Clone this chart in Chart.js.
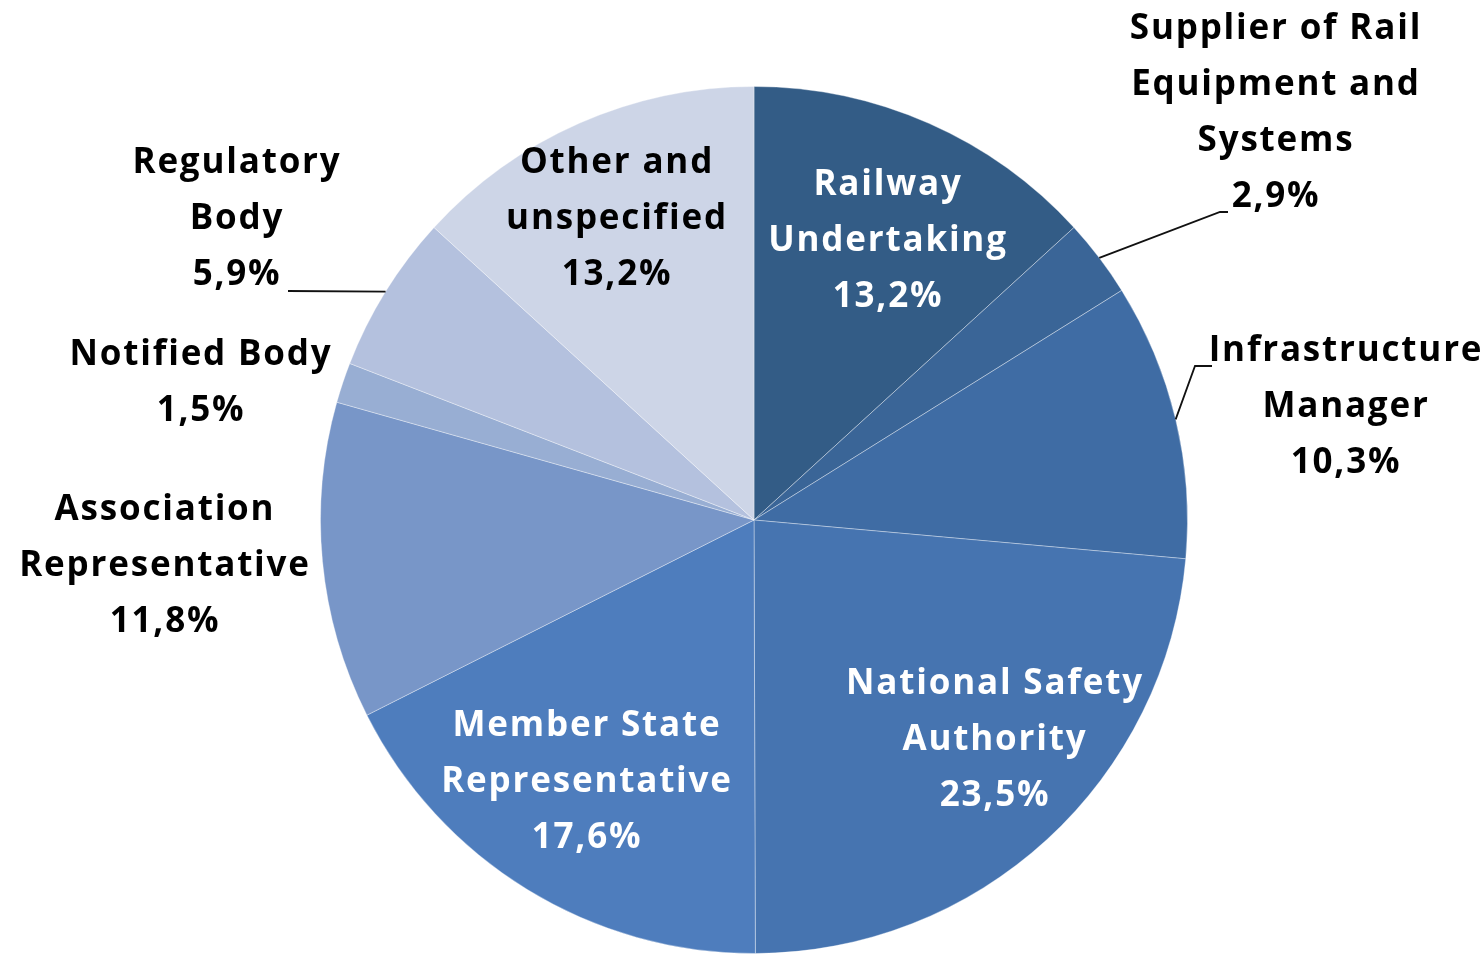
<!DOCTYPE html>
<html>
<head>
<meta charset="utf-8">
<script src="https://cdn.jsdelivr.net/npm/chart.js@4.4.1/dist/chart.umd.min.js"></script>
<style>
  html, body { margin: 0; padding: 0; background: #fff; }
  #wrap { width: 1484px; height: 955px; }
</style>
</head>
<body>
<div id="wrap"><canvas id="pie" width="1484" height="955"></canvas></div>
<script>
// categories, clockwise from 12 o'clock
const categories = [
    ['Railway', 'Undertaking'],
    ['Supplier of Rail', 'Equipment and', 'Systems'],
    ['Infrastructure', 'Manager'],
    ['National Safety', 'Authority'],
    ['Member State', 'Representative'],
    ['Association', 'Representative'],
    ['Notified Body'],
    ['Regulatory', 'Body'],
    ['Other and', 'unspecified']
];
const shares = [13.2, 2.9, 10.3, 23.5, 17.6, 11.8, 1.5, 5.9, 13.2];

const sliceColors = ['#335c86', '#3a6597', '#3f6ca4', '#4674b0', '#4e7dbd',
                     '#7896c8', '#98aed3', '#b4c1de', '#cdd5e7'];

// label placement, px offset of block centre from pie centre
const labelLayout = [
    { dx: 133,  dy: -279, color: '#fff' },
    { dx: 521,  dy: -407, color: '#000', leader: [[466, -308], [474, -308]] },
    { dx: 591,  dy: -113, color: '#000', leader: [[441, -154], [458, -154]] },
    { dx: 240,  dy: 220,  color: '#fff' },
    { dx: -168, dy: 262,  color: '#fff' },
    { dx: -590, dy: 46,   color: '#000' },
    { dx: -554, dy: -137, color: '#000' },
    { dx: -518, dy: -301, color: '#000', leader: [[-466, -229]] },
    { dx: -138, dy: -301, color: '#000' }
];

const fmt = v => v.toFixed(1).replace('.', ',') + '%';

const labelPlugin = {
    id: 'sliceLabels',
    afterDatasetsDraw(chart) {
        const ctx = chart.ctx;
        const meta = chart.getDatasetMeta(0);
        const lineH = 56;
        ctx.save();
        meta.data.forEach((arc, i) => {
            const lay = labelLayout[i];
            const cx = arc.x, cy = arc.y;
            if (lay.leader) {
                const mid = (arc.startAngle + arc.endAngle) / 2;
                ctx.beginPath();
                ctx.strokeStyle = '#111';
                ctx.lineWidth = 1.8;
                ctx.moveTo(cx + Math.cos(mid) * arc.outerRadius, cy + Math.sin(mid) * arc.outerRadius);
                lay.leader.forEach(p => ctx.lineTo(cx + p[0], cy + p[1]));
                ctx.stroke();
            }
            const lines = [].concat(chart.data.labels[i], fmt(shares[i]));
            ctx.fillStyle = lay.color;
            ctx.font = 'bold 35px "Open Sans", sans-serif';
            ctx.letterSpacing = '1.8px';
            ctx.textAlign = 'center';
            ctx.textBaseline = 'middle';
            const top = cy + lay.dy - (lines.length - 1) * lineH / 2;
            lines.forEach((t, k) => ctx.fillText(t, cx + lay.dx + 1, top + k * lineH));
        });
        ctx.restore();
    }
};

new Chart(document.getElementById('pie'), {
    type: 'pie',
    data: {
        labels: categories,
        datasets: [{
            data: shares,
            backgroundColor: sliceColors,
            borderColor: 'rgba(255,255,255,0.35)',
            borderWidth: 1
        }]
    },
    options: {
        responsive: false,
        animation: false,
        layout: { padding: { left: 24, top: 86, right: 0, bottom: 1 } },
        plugins: {
            legend: { display: false },
            tooltip: { enabled: false }
        }
    },
    plugins: [labelPlugin]
});
</script>
</body>
</html>
